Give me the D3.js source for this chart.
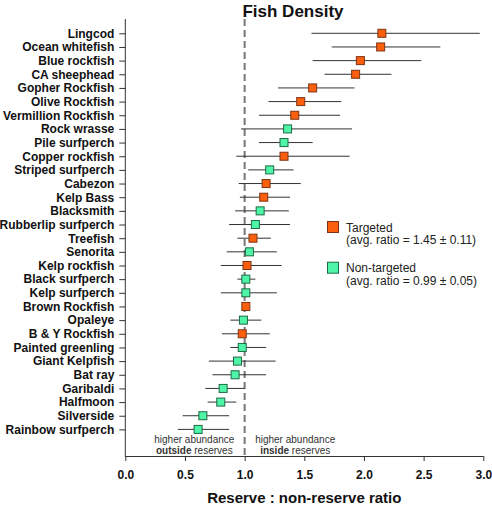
<!DOCTYPE html>
<html>
<head>
<meta charset="utf-8">
<script src="https://cdn.jsdelivr.net/npm/d3@7"></script>
<style>
  html, body { margin: 0; padding: 0; background: #fff; }
  svg { display: block; font-family: "Liberation Sans", Arial, sans-serif; }
</style>
</head>
<body>
<svg id="chart" width="492" height="510"></svg>
<script>
// ---- Data ----
const species = ["Lingcod","Ocean whitefish","Blue rockfish","CA sheephead","Gopher Rockfish","Olive Rockfish","Vermillion Rockfish","Rock wrasse","Pile surfperch","Copper rockfish","Striped surfperch","Cabezon","Kelp Bass","Blacksmith","Rubberlip surfperch","Treefish","Senorita","Kelp rockfish","Black surfperch","Kelp surfperch","Brown Rockfish","Opaleye","B & Y Rockfish","Painted greenling","Giant Kelpfish","Bat ray","Garibaldi","Halfmoon","Silverside","Rainbow surfperch"];
const ratio = [2.15,2.14,1.97,1.93,1.57,1.47,1.42,1.36,1.33,1.33,1.21,1.18,1.16,1.13,1.09,1.07,1.04,1.02,1.01,1.01,1.01,0.99,0.98,0.98,0.94,0.92,0.82,0.80,0.65,0.61];
const lower = [1.56,1.73,1.57,1.67,1.28,1.20,1.12,0.97,1.12,0.93,1.03,0.95,0.96,0.92,0.87,0.94,0.85,0.80,0.94,0.80,0.99,0.88,0.81,0.88,0.70,0.73,0.67,0.69,0.48,0.44];
const upper = [2.97,2.64,2.48,2.23,1.92,1.81,1.80,1.90,1.57,1.88,1.41,1.47,1.38,1.37,1.38,1.22,1.27,1.31,1.09,1.27,1.03,1.14,1.21,1.18,1.26,1.18,1.00,0.93,0.87,0.87];
const group = ["T","T","T","T","T","T","T","N","N","T","N","T","T","N","N","T","N","T","N","N","T","N","T","N","N","N","N","N","N","N"];
const xTicks = [0, 0.5, 1.0, 1.5, 2.0, 2.5, 3.0];
const legendLabels = ["Targeted", "Non-targeted"];
const legendNotes = ["(avg. ratio = 1.45 \u00b1 0.11)", "(avg. ratio = 0.99 \u00b1 0.05)"];
const legendKeys = ["T", "N"];

// ---- Styling ----
const fillColor = { T: "#fa5f0e", N: "#4ff5a6" };
const strokeColor = { T: "#7e3414", N: "#1d6a46" };

const svg = d3.select("#chart");

const x = d3.scaleLinear().domain([0, 3]).range([125.3, 483.3]);
const y = d3.scalePoint().domain(species).range([33.3, 429.4]);

const axisTop = 19, axisBottom = 456;

// Title
svg.append("text")
  .attr("x", 293).attr("y", 17)
  .attr("text-anchor", "middle")
  .attr("font-size", 17).attr("font-weight", "bold").attr("fill", "#111")
  .text("Fish Density");

// X axis
const xAxis = d3.axisBottom(x).tickValues(xTicks).tickFormat(d3.format(".1f")).tickSize(5).tickPadding(9);
const gx = svg.append("g").attr("transform", `translate(0,${axisBottom})`).call(xAxis);
gx.select(".domain").remove();
gx.selectAll(".tick line").attr("stroke", "#333");
gx.selectAll(".tick text").attr("font-size", 12).attr("font-weight", "bold").attr("fill", "#111")
  .attr("font-family", "Liberation Sans, Arial, sans-serif");
svg.append("line")
  .attr("x1", x(0)).attr("x2", x(3)).attr("y1", axisBottom + 0.5).attr("y2", axisBottom + 0.5)
  .attr("stroke", "#333").attr("stroke-width", 1);

// Y axis
const yAxis = d3.axisLeft(y).tickSize(6).tickPadding(5);
const gy = svg.append("g").attr("transform", `translate(${x(0)},0)`).call(yAxis);
gy.select(".domain").remove();
gy.selectAll(".tick line").attr("stroke", "#333");
gy.selectAll(".tick text").attr("font-size", 12).attr("font-weight", "bold").attr("fill", "#111")
  .attr("font-family", "Liberation Sans, Arial, sans-serif");
svg.append("line")
  .attr("x1", x(0)).attr("x2", x(0)).attr("y1", axisTop).attr("y2", axisBottom + 1)
  .attr("stroke", "#333").attr("stroke-width", 1);

// X axis title
svg.append("text")
  .attr("x", (x(0) + x(3)) / 2).attr("y", 503)
  .attr("text-anchor", "middle")
  .attr("font-size", 15).attr("font-weight", "bold").attr("fill", "#111")
  .text("Reserve : non-reserve ratio");

// Reference dashed line at 1.0
svg.append("line")
  .attr("x1", x(1)).attr("x2", x(1)).attr("y1", axisTop).attr("y2", axisBottom)
  .attr("stroke", "#777").attr("stroke-width", 2).attr("stroke-dasharray", "7,4");

// Annotations
const ann = svg.append("g").attr("font-size", 10).attr("fill", "#333").attr("text-anchor", "middle");
ann.append("text").attr("x", 194.3).attr("y", 442.7).text("higher abundance");
const left2 = ann.append("text").attr("x", 194.3).attr("y", 454.3);
left2.append("tspan").attr("font-weight", "bold").text("outside");
left2.append("tspan").text(" reserves");
ann.append("text").attr("x", 295.2).attr("y", 442.7).text("higher abundance");
const right2 = ann.append("text").attr("x", 295.2).attr("y", 454.3);
right2.append("tspan").attr("font-weight", "bold").text("inside");
right2.append("tspan").text(" reserves");

// Data rows
const rows = species.map((s, i) => ({ s, r: ratio[i], lo: lower[i], hi: upper[i], g: group[i] }));

svg.append("g").selectAll("line")
  .data(rows).join("line")
  .attr("x1", d => x(d.lo)).attr("x2", d => x(d.hi))
  .attr("y1", d => y(d.s)).attr("y2", d => y(d.s))
  .attr("stroke", "#333").attr("stroke-width", 1);

const m = 8;
svg.append("g").selectAll("rect")
  .data(rows).join("rect")
  .attr("x", d => x(d.r) - m / 2).attr("y", d => y(d.s) - m / 2)
  .attr("width", m).attr("height", m)
  .attr("fill", d => fillColor[d.g]).attr("stroke", d => strokeColor[d.g]).attr("stroke-width", 1);

// Legend
const legendY = [221, 261.7];
const lg = svg.append("g");
legendKeys.forEach((k, i) => {
  lg.append("rect")
    .attr("x", 327.5).attr("y", legendY[i] + 0.5)
    .attr("width", 11).attr("height", 11)
    .attr("fill", fillColor[k]).attr("stroke", strokeColor[k]).attr("stroke-width", 1);
  lg.append("text")
    .attr("x", 346).attr("y", legendY[i] + 10.7)
    .attr("font-size", 12).attr("fill", "#222")
    .text(legendLabels[i]);
  lg.append("text")
    .attr("x", 346).attr("y", legendY[i] + 23.3)
    .attr("font-size", 12).attr("fill", "#222")
    .text(legendNotes[i]);
});
</script>
</body>
</html>
